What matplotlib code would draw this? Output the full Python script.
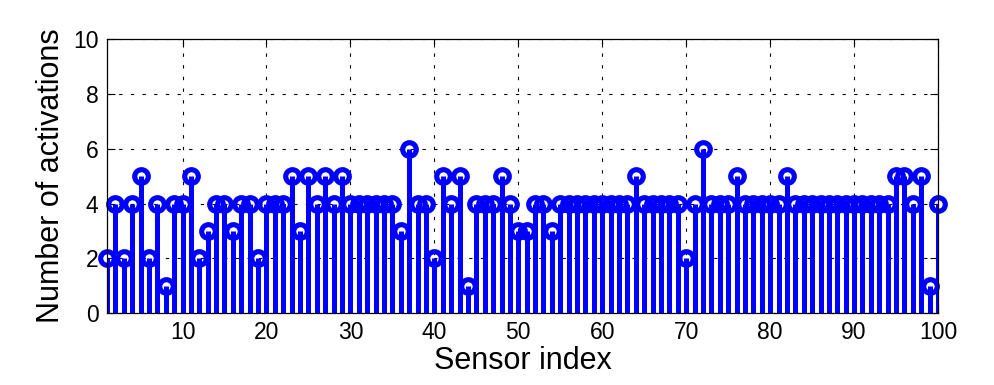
import matplotlib
matplotlib.use("Agg")
import matplotlib.pyplot as plt
import numpy as np

# sensor indices 1..100 and activation counts
sensor_idx = list(range(1, 101))
activations = [
    2, 4, 2, 4, 5, 2, 4, 1, 4, 4,
    5, 2, 3, 4, 4, 3, 4, 4, 2, 4,
    4, 4, 5, 3, 5, 4, 5, 4, 5, 4,
    4, 4, 4, 4, 4, 3, 6, 4, 4, 2,
    5, 4, 5, 1, 4, 4, 4, 5, 4, 3,
    3, 4, 4, 3, 4, 4, 4, 4, 4, 4,
    4, 4, 4, 5, 4, 4, 4, 4, 4, 2,
    4, 6, 4, 4, 4, 5, 4, 4, 4, 4,
    4, 5, 4, 4, 4, 4, 4, 4, 4, 4,
    4, 4, 4, 4, 5, 5, 4, 5, 1, 4,
]
xticks = [10, 20, 30, 40, 50, 60, 70, 80, 90, 100]
yticks = [0, 2, 4, 6, 8, 10]

plt.rcParams['font.family'] = ['Liberation Sans', 'DejaVu Sans']

fig = plt.figure(figsize=(9.94, 3.85), dpi=100)
ax = fig.add_axes([0.1076, 0.187, 0.8361, 0.711])

markers, stems, base = ax.stem(sensor_idx, activations, linefmt='-', markerfmt='o', basefmt=' ')
stems.set_color('#0000ff')
stems.set_linewidth(3.6)
markers.set_color('#0000ff')
markers.set_markerfacecolor('none')
markers.set_markersize(9.8)
markers.set_markeredgewidth(3.7)
markers.set_clip_on(False)
base.set_visible(False)

ax.set_xlim(1, 100)
ax.set_ylim(0, 10)
ax.set_xticks(xticks)
ax.set_yticks(yticks)

ax.grid(True, color='black', linewidth=0.8, linestyle=(0, (3, 7.5)))
ax.set_axisbelow(True)

ax.tick_params(direction='in', length=6, width=0.8, top=True, right=True,
               labelsize=16.5, pad=6)
for s in ax.spines.values():
    s.set_linewidth(0.9)

ax.set_xlabel('Sensor index', fontsize=22, labelpad=1)
ax.set_ylabel('Number of activations', fontsize=22, labelpad=5)

fig.savefig('out.png', dpi=100)
